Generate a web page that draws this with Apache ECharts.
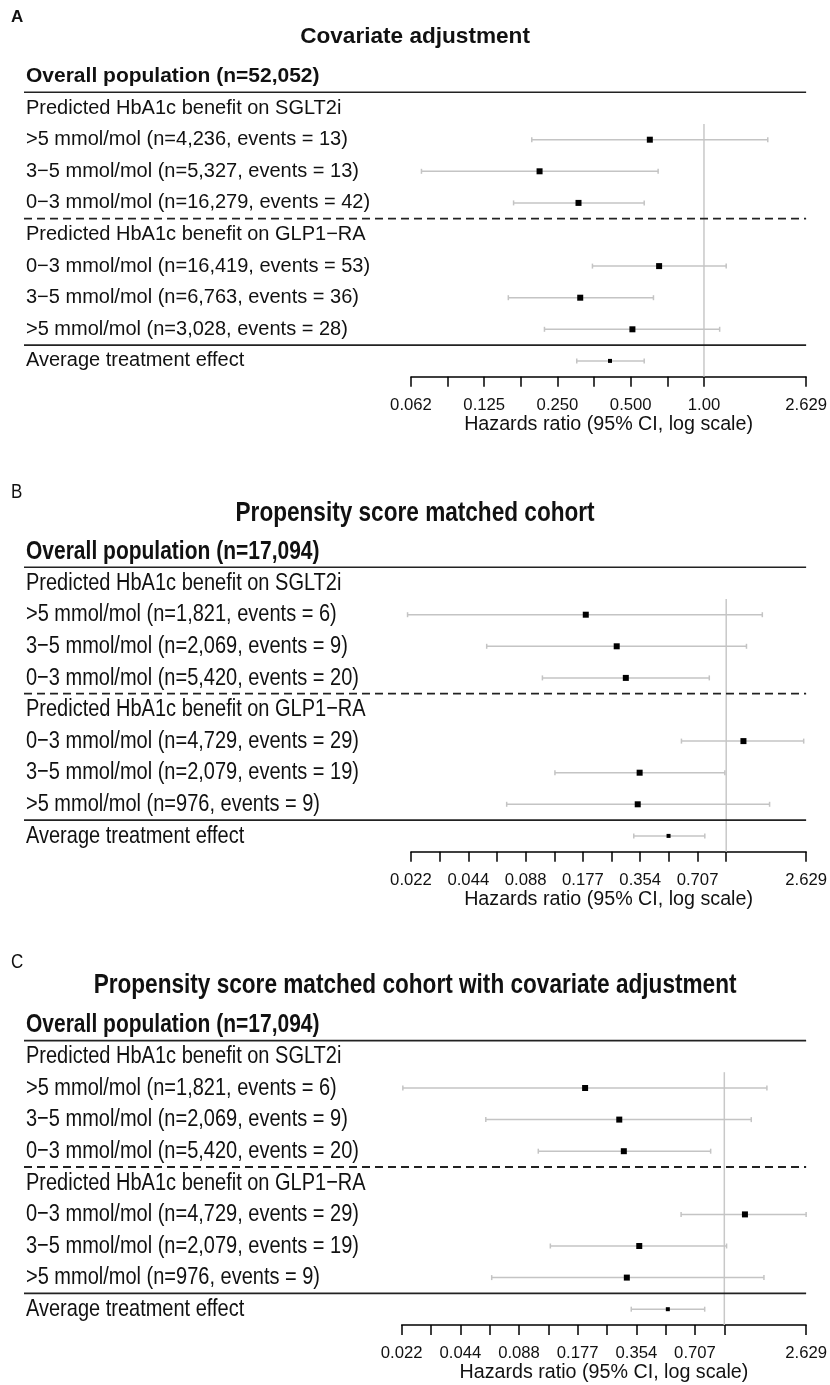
<!DOCTYPE html>
<html><head><meta charset="utf-8">
<script src="https://cdn.jsdelivr.net/npm/echarts@6/dist/echarts.min.js"></script>
<style>html,body{margin:0;padding:0;background:#fff}#c{width:830px;height:1385px}</style>
</head><body><div id="c"></div>
<script>
// ---------------- data ----------------
const panelLetters = ['A', 'B', 'C'];
const panelTitles = ['Covariate adjustment', 'Propensity score matched cohort', 'Propensity score matched cohort with covariate adjustment'];
const axisTitle = 'Hazards ratio (95% CI, log scale)';
const refValue = 1;

const rowLabelsA = ['Overall population (n=52,052)', 'Predicted HbA1c benefit on SGLT2i',
  '>5 mmol/mol (n=4,236, events = 13)', '3\u22125 mmol/mol (n=5,327, events = 13)', '0\u22123 mmol/mol (n=16,279, events = 42)',
  'Predicted HbA1c benefit on GLP1\u2212RA',
  '0\u22123 mmol/mol (n=16,419, events = 53)', '3\u22125 mmol/mol (n=6,763, events = 36)', '>5 mmol/mol (n=3,028, events = 28)',
  'Average treatment effect'];
const estA   = [null, null, 0.599, 0.211, 0.305, null, 0.654, 0.310, 0.508, 0.411];
const lowerA = [null, null, 0.196, 0.069, 0.165, null, 0.348, 0.157, 0.221, 0.300];
const upperA = [null, null, 1.829, 0.648, 0.568, null, 1.234, 0.620, 1.160, 0.568];

const rowLabelsB = ['Overall population (n=17,094)', 'Predicted HbA1c benefit on SGLT2i',
  '>5 mmol/mol (n=1,821, events = 6)', '3\u22125 mmol/mol (n=2,069, events = 9)', '0\u22123 mmol/mol (n=5,420, events = 20)',
  'Predicted HbA1c benefit on GLP1\u2212RA',
  '0\u22123 mmol/mol (n=4,729, events = 29)', '3\u22125 mmol/mol (n=2,079, events = 19)', '>5 mmol/mol (n=976, events = 9)',
  'Average treatment effect'];
const estB   = [null, null, 0.183, 0.266, 0.297, null, 1.232, 0.351, 0.343, 0.498];
const lowerB = [null, null, 0.0212, 0.0552, 0.1083, null, 0.582, 0.126, 0.0703, 0.327];
const upperB = [null, null, 1.548, 1.278, 0.815, null, 2.553, 0.984, 1.690, 0.772];

const rowLabelsC = ['Overall population (n=17,094)', 'Predicted HbA1c benefit on SGLT2i',
  '>5 mmol/mol (n=1,821, events = 6)', '3\u22125 mmol/mol (n=2,069, events = 9)', '0\u22123 mmol/mol (n=5,420, events = 20)',
  'Predicted HbA1c benefit on GLP1\u2212RA',
  '0\u22123 mmol/mol (n=4,729, events = 29)', '3\u22125 mmol/mol (n=2,079, events = 19)', '>5 mmol/mol (n=976, events = 9)',
  'Average treatment effect'];
const estC   = [null, null, 0.193, 0.289, 0.305, null, 1.276, 0.366, 0.316, 0.513];
const lowerC = [null, null, 0.0224, 0.0597, 0.111, null, 0.600, 0.128, 0.064, 0.333];
const upperC = [null, null, 1.654, 1.375, 0.851, null, 2.629, 1.027, 1.597, 0.793];

const tickValuesA = [0.0625, 0.0884, 0.125, 0.1768, 0.25, 0.3536, 0.5, 0.7071, 1, 2.629];
const tickLabelValuesA = [0.0625, 0.125, 0.25, 0.5, 1, 2.629];
const tickLabelsA = ['0.062', '0.125', '0.250', '0.500', '1.00', '2.629'];

const tickValuesBC = [0.0221, 0.03125, 0.0442, 0.0625, 0.0884, 0.125, 0.1768, 0.25, 0.3536, 0.5, 0.7071, 1, 2.629];
const tickLabelValuesBC = [0.0221, 0.0442, 0.0884, 0.1768, 0.3536, 0.7071, 2.629];
const tickLabelsBC = ['0.022', '0.044', '0.088', '0.177', '0.354', '0.707', '2.629'];

// ---------------- layout / style ----------------
const FONT = '"Liberation Sans", Arial, Helvetica, sans-serif';
const L = v => Math.log2(v);
const panels = [
  { labels: rowLabelsA, est: estA, lo: lowerA, hi: upperA, ticks: tickValuesA, labVals: tickLabelValuesA, labs: tickLabelsA },
  { labels: rowLabelsB, est: estB, lo: lowerB, hi: upperB, ticks: tickValuesBC, labVals: tickLabelValuesBC, labs: tickLabelsBC },
  { labels: rowLabelsC, est: estC, lo: lowerC, hi: upperC, ticks: tickValuesBC, labVals: tickLabelValuesBC, labs: tickLabelsBC }
];
const layout = [
  { left: 411, right: 22, top: 60.7, height: 316, titleY: 37, letterY: 17, sy: 1, letterBold: true },
  { left: 411, right: 22.7, top: 535.7, height: 316, titleY: 513, letterY: 492, sy: 1.22, letterBold: false },
  { left: 401.7, right: 22.3, top: 1009, height: 316, titleY: 985, letterY: 962, sy: 1.22, letterBold: false }
];
const textLeft = 26, lineLeft = 24;

const chart = echarts.init(document.getElementById('c'), null, { renderer: 'canvas', width: 830, height: 1385 });

const grids = [], xAxes = [], yAxes = [], series = [];
panels.forEach((p, i) => {
  const lay = layout[i];
  grids.push({ left: lay.left, right: lay.right, top: lay.top, height: lay.height, containLabel: false });
  const tv = p.ticks.map(L);
  const lv = p.labVals.map(L);
  xAxes.push({
    gridIndex: i, type: 'value', min: tv[0], max: tv[tv.length - 1],
    axisLine: { show: true, onZero: false, lineStyle: { color: '#000', width: 1.5 } },
    axisTick: { show: true, customValues: tv, length: 10, lineStyle: { color: '#000', width: 1.5 } },
    axisLabel: {
      customValues: lv, margin: 20, fontSize: 16.7, color: '#111', fontFamily: FONT,
      showMinLabel: true, showMaxLabel: true,
      formatter: v => { const k = lv.findIndex(x => Math.abs(x - v) < 1e-6); return k >= 0 ? p.labs[k] : ''; }
    },
    splitLine: { show: false },
    name: axisTitle, nameLocation: 'middle', nameGap: 36,
    nameTextStyle: { fontSize: 19.7, color: '#111', fontFamily: FONT }
  });
  yAxes.push({
    gridIndex: i, type: 'category', data: p.labels, inverse: true, show: false,
    axisLine: { show: false }, axisTick: { show: false }, axisLabel: { show: false }, splitLine: { show: false }
  });
  const rows = [];
  const last = p.labels.length - 1;
  p.est.forEach((e, k) => {
    if (e != null) rows.push([L(p.lo[k]), L(p.hi[k]), L(e), k, k === last ? 1 : 0]);
  });
  const firstRow = p.est.findIndex(e => e != null);
  // reference line at HR = 1
  series.push({
    type: 'custom', xAxisIndex: i, yAxisIndex: i, z: 1, silent: true,
    data: [[L(refValue), firstRow]], encode: { x: 0, y: 1 },
    renderItem: (params, api) => {
      const pt = api.coord([api.value(0), api.value(1)]);
      const band = api.size([0, 1])[1];
      const cs = params.coordSys;
      return { type: 'line', shape: { x1: pt[0], y1: pt[1] - band / 2, x2: pt[0], y2: cs.y + cs.height },
        style: { stroke: '#c8c8c8', lineWidth: 1.5 } };
    }
  });
  // CI whiskers and point estimates
  series.push({
    type: 'custom', xAxisIndex: i, yAxisIndex: i, z: 3, silent: true,
    data: rows, encode: { x: [0, 1, 2], y: 3 },
    renderItem: (params, api) => {
      const y = api.value(3);
      const a = api.coord([api.value(0), y]);
      const b = api.coord([api.value(1), y]);
      const e = api.coord([api.value(2), y]);
      const avg = api.value(4) === 1;
      const s = avg ? 4 : 6;
      const cap = 2.5;
      const ls = { stroke: '#c4c4c4', lineWidth: 1.5 };
      return { type: 'group', children: [
        { type: 'line', shape: { x1: a[0], y1: a[1], x2: b[0], y2: b[1] }, style: ls },
        { type: 'line', shape: { x1: a[0], y1: a[1] - cap, x2: a[0], y2: a[1] + cap }, style: ls },
        { type: 'line', shape: { x1: b[0], y1: b[1] - cap, x2: b[0], y2: b[1] + cap }, style: ls },
        { type: 'rect', shape: { x: e[0] - s / 2, y: e[1] - s / 2, width: s, height: s }, style: { fill: '#000' } }
      ] };
    }
  });
});

chart.setOption({
  animation: false,
  backgroundColor: '#fff',
  grid: grids, xAxis: xAxes, yAxis: yAxes, series: series
});

// ---------------- texts and separators ----------------
function txt(x, y, text, font, align, sy) {
  return { type: 'text', x: x, y: y, scaleY: sy, originX: 0, originY: 0, silent: true, z: 10,
    style: { text: text, font: font, fill: '#111', align: align, verticalAlign: 'middle',
      textAlign: align, textVerticalAlign: 'middle' } };
}
const gfx = [];
panels.forEach((p, i) => {
  const lay = layout[i];
  const yAt = k => chart.convertToPixel({ yAxisIndex: i }, k);
  const band = yAt(1) - yAt(0);
  const xMax = chart.convertToPixel({ xAxisIndex: i }, L(p.ticks[p.ticks.length - 1]));
  const cx = (lineLeft + xMax) / 2;
  gfx.push(txt(11, lay.letterY, panelLetters[i], (lay.letterBold ? 'bold ' : '') + '17px ' + FONT, 'left', lay.sy));
  gfx.push(txt(cx, lay.titleY, panelTitles[i], 'bold 22.6px ' + FONT, 'center', lay.sy));
  p.labels.forEach((lab, k) => {
    const f = k === 0 ? 'bold 21px ' + FONT : '20px ' + FONT;
    gfx.push(txt(textLeft, yAt(k), lab, f, 'left', lay.sy));
  });
  // separators: after header, between drug groups (dashed), before average
  const firstGroupEnd = p.labels.findIndex((l, k) => k > 1 && l.indexOf('Predicted') === 0);
  const seps = [
    { k: 1, dash: null, w: 1.6 },
    { k: firstGroupEnd, dash: [8, 5], w: 1.8 },
    { k: p.labels.length - 1, dash: null, w: 1.8 }
  ];
  seps.forEach(s => {
    const y = yAt(s.k) - band / 2;
    gfx.push({ type: 'line', silent: true, z: 5,
      shape: { x1: lineLeft, y1: y, x2: xMax, y2: y },
      style: { stroke: '#222', lineWidth: s.w, lineDash: s.dash || null } });
  });
});
chart.setOption({ graphic: { elements: gfx } });
</script>
</body></html>
